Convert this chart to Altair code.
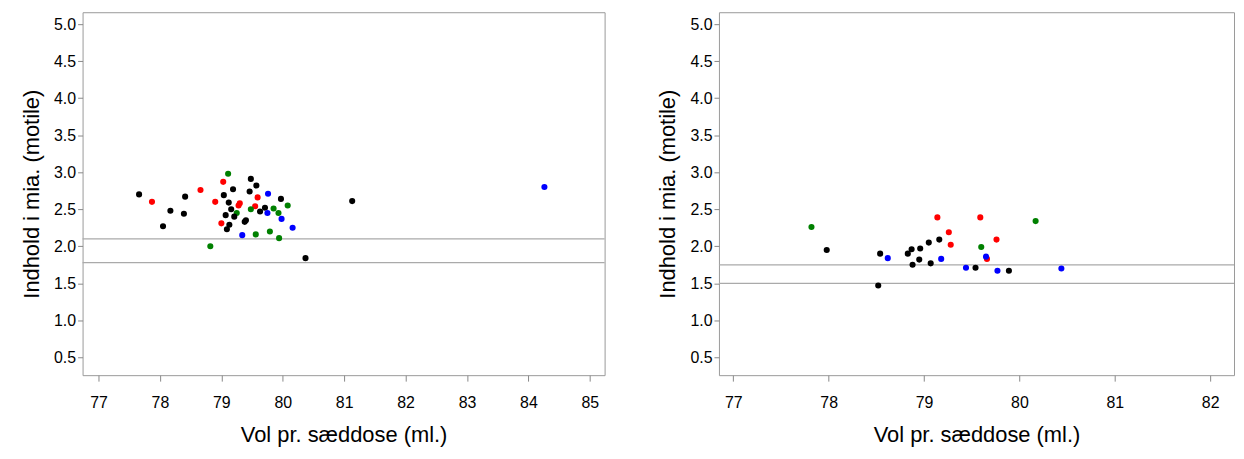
import altair as alt
import pandas as pd

# left panel
vol_a = [77.66, 77.87, 78.17, 78.05, 78.41, 78.39, 78.66, 78.90, 79.11, 79.03, 79.19, 79.04,
         79.12, 79.16, 79.30, 79.28, 79.07, 79.25, 79.21, 79.00, 79.13, 79.09, 79.38, 79.40,
         79.34, 79.56, 79.48, 79.57, 79.46, 79.59, 79.76, 79.97, 79.55, 79.48, 79.63, 79.71,
         79.85, 79.75, 79.93, 80.08, 79.98, 80.16, 79.79, 79.94, 78.82, 80.37, 81.13, 84.26]
ind_a = [2.70, 2.60, 2.48, 2.27, 2.67, 2.44, 2.76, 2.60, 2.98, 2.87, 2.77, 2.69,
         2.59, 2.50, 2.58, 2.55, 2.42, 2.45, 2.40, 2.31, 2.29, 2.23, 2.33, 2.35,
         2.15, 2.16, 2.91, 2.82, 2.74, 2.66, 2.71, 2.64, 2.54, 2.50, 2.47, 2.52,
         2.51, 2.45, 2.45, 2.55, 2.37, 2.25, 2.20, 2.11, 2.00, 1.84, 2.61, 2.80]
grp_a = ["k", "r", "k", "k", "k", "k", "r", "r", "g", "r", "k", "k",
         "k", "k", "r", "r", "k", "g", "k", "r", "k", "k", "k", "k",
         "b", "g", "k", "k", "k", "r", "b", "k", "r", "g", "k", "k",
         "g", "b", "g", "g", "b", "b", "g", "g", "g", "k", "k", "b"]
lines_a = [2.1, 1.78]

# right panel
vol_b = [77.82, 77.98, 78.54, 78.62, 78.52, 78.83, 78.87, 78.96, 78.95, 78.88, 79.05, 79.07,
         79.16, 79.18, 79.14, 79.26, 79.28, 79.59, 79.60, 79.76, 79.66, 79.65, 79.44, 79.54,
         79.77, 79.89, 80.44, 80.17]
ind_b = [2.26, 1.95, 1.90, 1.84, 1.47, 1.90, 1.96, 1.97, 1.82, 1.75, 2.05, 1.77,
         2.09, 1.83, 2.39, 2.19, 2.02, 2.39, 1.99, 2.09, 1.83, 1.86, 1.71, 1.71,
         1.67, 1.67, 1.70, 2.34]
grp_b = ["g", "k", "k", "b", "k", "k", "k", "k", "k", "k", "k", "k",
         "k", "b", "r", "r", "r", "r", "g", "r", "r", "b", "b", "k",
         "b", "k", "b", "g"]
lines_b = [1.75, 1.5]

colors = {"k": "#000000", "r": "#ff0000", "g": "#008000", "b": "#0000ff"}
y_ticks = [0.5, 1.0, 1.5, 2.0, 2.5, 3.0, 3.5, 4.0, 4.5, 5.0]


def panel(vol, ind, grp, lines, xdom, xticks, width):
    df = pd.DataFrame({"vol": vol, "ind": ind, "grp": grp})
    x = alt.X("vol:Q", scale=alt.Scale(domain=xdom, nice=False, zero=False),
              axis=alt.Axis(title="Vol pr. sæddose (ml.)", values=xticks, format="d",
                            grid=False, tickColor="#888", domain=False, labelPadding=14,
                            titlePadding=14, tickSize=6))
    y = alt.Y("ind:Q", scale=alt.Scale(domain=[0.26, 5.16], nice=False, zero=False),
              axis=alt.Axis(title="Indhold i mia. (motile)", values=y_ticks, format=".1f",
                            grid=False, tickColor="#888", domain=False, titlePadding=10))
    pts = alt.Chart(df).mark_circle(size=38, opacity=1).encode(
        x, y,
        color=alt.Color("grp:N", scale=alt.Scale(domain=list(colors), range=list(colors.values())),
                        legend=None)
    )
    ref = alt.Chart(pd.DataFrame({"h": lines})).mark_rule(color="#aaa", strokeWidth=1.2).encode(
        y="h:Q"
    )
    return alt.layer(ref, pts).properties(width=width, height=365)


left = panel(vol_a, ind_a, grp_a, lines_a, [76.74, 85.24], list(range(77, 86)), 525)
right = panel(vol_b, ind_b, grp_b, lines_b, [76.85, 82.25], list(range(77, 83)), 518)

chart = alt.hconcat(left, right, spacing=50).configure_view(stroke="#999").configure_axis(
    labelFont="Liberation Sans", titleFont="Liberation Sans", labelFontSize=16,
    titleFontSize=22, titleFontWeight="normal", labelColor="#000", titleColor="#000"
).properties(padding={"left": 12, "top": 2, "right": 0, "bottom": 0})

chart.save("out.html", embed_options={"renderer": "svg", "actions": False})
